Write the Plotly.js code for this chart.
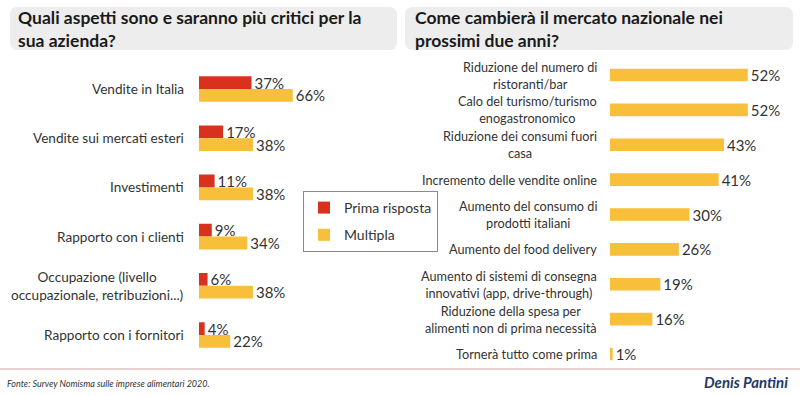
<!DOCTYPE html>
<html><head><meta charset="utf-8">
<script src="https://cdn.plot.ly/plotly-3.0.1.min.js"></script>
<style>html,body{margin:0;padding:0;background:#fff}#chart{width:800px;height:396px}</style>
</head><body><div id="chart"></div>
<script>
const leftTitle = "Quali aspetti sono e saranno più critici per la<br>sua azienda?";
const rightTitle = "Come cambierà il mercato nazionale nei<br>prossimi due anni?";
const leftCategories = ["Vendite in Italia","Vendite sui mercati esteri","Investimenti","Rapporto con i clienti","Occupazione (livello<br>occupazionale, retribuzioni...)","Rapporto con i fornitori"];
const primaRisposta = [37,17,11,9,6,4];
const multipla = [66,38,38,34,38,22];
const seriesNames = ["Prima risposta","Multipla"];
const rightCategories = ["Riduzione del numero di<br>ristoranti/bar","Calo del turismo/turismo<br>enogastronomico","Riduzione dei consumi fuori<br>casa","Incremento delle vendite online","Aumento del consumo di<br>prodotti italiani","Aumento del food delivery","Aumento di sistemi di consegna<br>innovativi (app, drive-through)","Riduzione della spesa per<br>alimenti non di prima necessità","Tornerà tutto come prima"];
const rightValues = [52,52,43,41,30,26,19,16,1];
const sourceText = "Fonte: Survey Nomisma sulle imprese alimentari 2020.";
const authorText = "Denis Pantini";

const W = 800, H = 396;
const FONT = 'Lato, "Open Sans", sans-serif';
const RED = '#d8321f', YEL = '#f8bf3a', TXT = '#333333';
const px = x => x / W, py = y => 1 - y / H;

function roundRect(x0, y0, x1, y1, r) {
  const rx = r / W, ry = r / H;
  const X0 = px(x0), X1 = px(x1), Y0 = py(y0), Y1 = py(y1);
  return `M${X0 + rx},${Y0} L${X1 - rx},${Y0} Q${X1},${Y0} ${X1},${Y0 - ry} L${X1},${Y1 + ry} Q${X1},${Y1} ${X1 - rx},${Y1} L${X0 + rx},${Y1} Q${X0},${Y1} ${X0},${Y1 + ry} L${X0},${Y0 - ry} Q${X0},${Y0} ${X0 + rx},${Y0} Z`;
}

const pct = arr => arr.map(v => v + '%');
const barText = {size: 15, color: TXT, family: FONT};

const traces = [
  {type: 'bar', orientation: 'h', name: seriesNames[0], legendgroup: 'a',
   y: leftCategories.map((c, i) => i), x: primaRisposta, xaxis: 'x', yaxis: 'y',
   width: 0.26, offset: -0.26, marker: {color: RED},
   text: pct(primaRisposta), textposition: 'outside', textfont: barText,
   cliponaxis: false, constraintext: 'none', hoverinfo: 'skip'},
  {type: 'bar', orientation: 'h', name: seriesNames[1], legendgroup: 'b',
   y: leftCategories.map((c, i) => i), x: multipla, xaxis: 'x', yaxis: 'y',
   width: 0.26, offset: 0, marker: {color: YEL},
   text: pct(multipla), textposition: 'outside', textfont: barText,
   cliponaxis: false, constraintext: 'none', hoverinfo: 'skip'},
  {type: 'bar', orientation: 'h', showlegend: false, legendgroup: 'c',
   y: rightCategories.map((c, i) => i), x: rightValues, xaxis: 'x2', yaxis: 'y2',
   width: 0.36, marker: {color: YEL},
   text: pct(rightValues), textposition: 'outside', textfont: barText,
   cliponaxis: false, constraintext: 'none', hoverinfo: 'skip'}
];

const annotations = [];
leftCategories.forEach((c, i) => annotations.push({
  text: c, xref: 'paper', x: px(186), xanchor: 'right', yref: 'y', y: i, yanchor: 'middle',
  align: 'center', showarrow: false, font: {size: 13.6, color: TXT, family: FONT}}));
rightCategories.forEach((c, i) => annotations.push({
  text: c, xref: 'paper', x: px(599), xanchor: 'right', yref: 'y2', y: i, yanchor: 'middle',
  align: 'center', showarrow: false, font: {size: 12.7, color: TXT, family: FONT}}));
annotations.push({text: '<b>' + leftTitle + '</b>', xref: 'paper', yref: 'paper', x: px(16), y: py(29),
  xanchor: 'left', yanchor: 'middle', align: 'left', showarrow: false, font: {size: 17.5, color: '#1a1a1a', family: FONT}});
annotations.push({text: '<b>' + rightTitle + '</b>', xref: 'paper', yref: 'paper', x: px(413), y: py(29),
  xanchor: 'left', yanchor: 'middle', align: 'left', showarrow: false, font: {size: 17.5, color: '#1a1a1a', family: FONT}});
annotations.push({text: '<i>' + sourceText + '</i>', xref: 'paper', yref: 'paper', x: px(5), y: py(383),
  xanchor: 'left', yanchor: 'middle', showarrow: false, font: {size: 9, color: TXT, family: FONT}});
annotations.push({text: '<b><i>' + authorText + '</i></b>', xref: 'paper', yref: 'paper', x: px(790), y: py(382),
  xanchor: 'right', yanchor: 'middle', showarrow: false, font: {size: 15, color: '#1f3864', family: FONT}});

const layout = {
  width: W, height: H, margin: {l: 0, r: 0, t: 0, b: 0},
  paper_bgcolor: '#fff', plot_bgcolor: 'rgba(0,0,0,0)',
  font: {family: FONT, color: TXT},
  barmode: 'overlay',
  xaxis: {domain: [px(199), px(341)], range: [0, 100], visible: false, fixedrange: true},
  yaxis: {domain: [py(359.6), py(64.4)], range: [5.5, -0.5], visible: false, anchor: 'x'},
  xaxis2: {domain: [px(610), px(769)], range: [0, 60], visible: false, anchor: 'y2'},
  yaxis2: {domain: [py(371.4), py(57.6)], range: [8.5, -0.5], visible: false, anchor: 'x2'},
  showlegend: true,
  legend: {x: px(303), y: py(191), xanchor: 'left', yanchor: 'top', bordercolor: '#8a8a8a', borderwidth: 1,
    bgcolor: '#fff', font: {size: 14, color: TXT, family: FONT}, tracegroupgap: 6, traceorder: 'grouped'},
  shapes: [
    {type: 'path', xref: 'paper', yref: 'paper', path: roundRect(10, 7, 397, 50, 8), fillcolor: '#ededed', line: {width: 0}, layer: 'below'},
    {type: 'path', xref: 'paper', yref: 'paper', path: roundRect(405, 7, 793, 50, 8), fillcolor: '#ededed', line: {width: 0}, layer: 'below'},
    {type: 'line', xref: 'paper', yref: 'paper', x0: 0, x1: 1, y0: py(369), y1: py(369), line: {color: '#d4a3a3', width: 1}}
  ],
  annotations: annotations
};

Plotly.newPlot('chart', traces, layout, {displayModeBar: false, staticPlot: true});
</script>
</body></html>
